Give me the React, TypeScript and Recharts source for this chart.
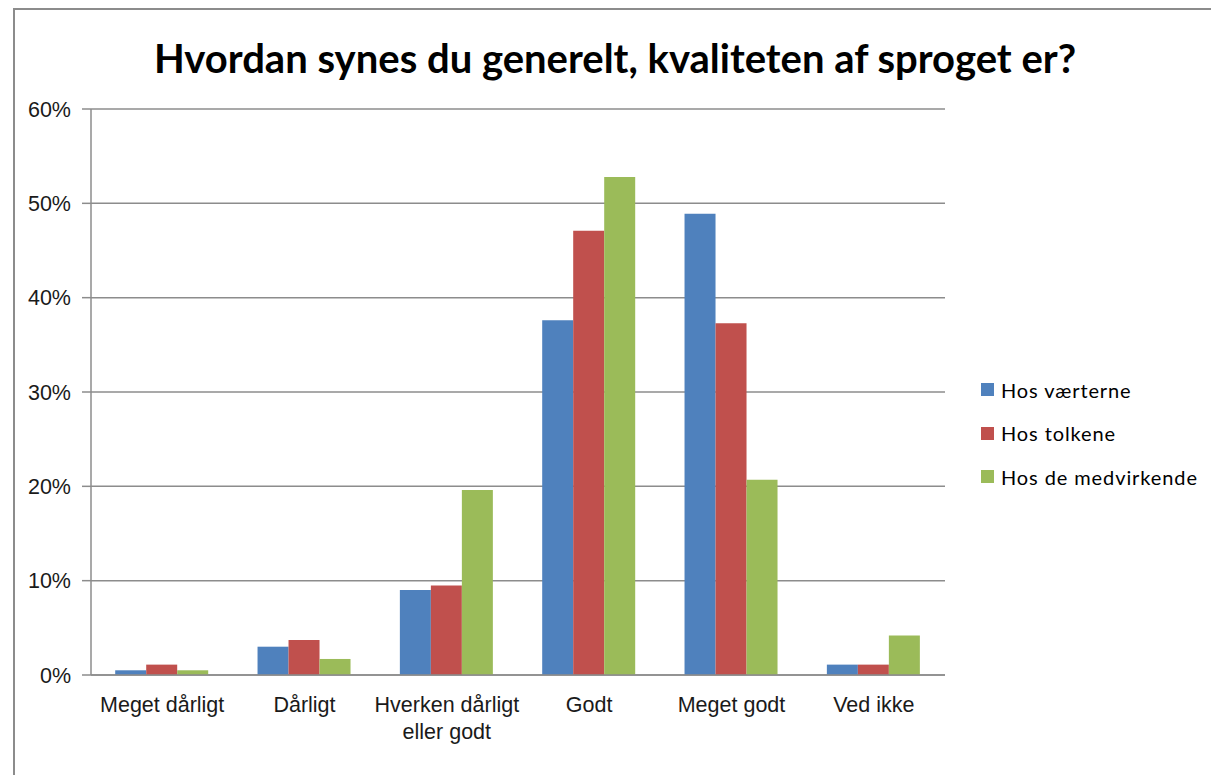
import React from "react";
import { BarChart, Bar, XAxis, YAxis, CartesianGrid } from "recharts";

const categories = [
  "Meget dårligt",
  "Dårligt",
  "Hverken dårligt eller godt",
  "Godt",
  "Meget godt",
  "Ved ikke",
];
const vaerterne = [0.5, 3.0, 9.0, 37.6, 48.9, 1.1];
const tolkene = [1.1, 3.7, 9.5, 47.1, 37.3, 1.1];
const medvirkende = [0.5, 1.7, 19.6, 52.8, 20.7, 4.2];
const yTicks = [0, 10, 20, 30, 40, 50, 60];

const seriesInfo = [
  { key: "vaerterne", name: "Hos værterne", color: "#4F81BD" },
  { key: "tolkene", name: "Hos tolkene", color: "#C0504D" },
  { key: "medvirkende", name: "Hos de medvirkende", color: "#9BBB59" },
];

const data = categories.map((c, i) => ({
  category: c,
  vaerterne: vaerterne[i],
  tolkene: tolkene[i],
  medvirkende: medvirkende[i],
}));

const tickFont = "'Liberation Sans', Arial, sans-serif";

function CategoryTick({ x, y, payload }: any) {
  const label: string = payload.value;
  const lines =
    label === "Hverken dårligt eller godt"
      ? ["Hverken dårligt", "eller godt"]
      : [label];
  return (
    <text
      x={x}
      y={y}
      textAnchor="middle"
      fontSize={21.5}
      fontFamily={tickFont}
      fill="#1a1a1a"
    >
      {lines.map((l, i) => (
        <tspan key={i} x={x} dy={i === 0 ? 29 : 27}>
          {l}
        </tspan>
      ))}
    </text>
  );
}

export default function App() {
  return (
    <div
      style={{
        position: "fixed",
        left: 0,
        top: 0,
        width: 1211,
        height: 775,
        background: "#fff",
        overflow: "hidden",
      }}
    >
      <div
        style={{
          position: "absolute",
          left: 13,
          top: 8,
          width: 1300,
          height: 900,
          border: "2px solid #8c8c8c",
          boxSizing: "border-box",
        }}
      />
      <div
        style={{
          position: "absolute",
          left: 0,
          width: 1230,
          top: 34,
          textAlign: "center",
          fontFamily: "Lato, 'Open Sans', sans-serif",
          fontWeight: 700,
          fontSize: 40,
          lineHeight: "48px",
          color: "#000",
        }}
      >
        Hvordan synes du generelt, kvaliteten af sproget er?
      </div>
      <div style={{ position: "absolute", left: 0, top: 0 }}>
        <BarChart
          width={1211}
          height={775}
          data={data}
          margin={{ top: 109, right: 266, bottom: 40, left: 13 }}
          barCategoryGap="17%"
          barGap={0}
        >
          <CartesianGrid
            vertical={false}
            stroke="#8c8c8c"
            strokeWidth={1.5}
            horizontalValues={yTicks}
          />
          <XAxis
            dataKey="category"
            height={60}
            tick={<CategoryTick />}
            tickLine={false}
            axisLine={{ stroke: "#8c8c8c", strokeWidth: 1.5 }}
            interval={0}
          />
          <YAxis
            width={78}
            domain={[0, 60]}
            ticks={yTicks}
            tickFormatter={(v) => `${v}%`}
            tick={{ fontSize: 21.5, fontFamily: tickFont, fill: "#1a1a1a" }}
            tickLine={{ stroke: "#8c8c8c", strokeWidth: 1.5 }}
            tickSize={9}
            tickMargin={11}
            axisLine={{ stroke: "#8c8c8c", strokeWidth: 1.5 }}
          />
          {seriesInfo.map((s) => (
            <Bar
              key={s.key}
              dataKey={s.key}
              name={s.name}
              fill={s.color}
              isAnimationActive={false}
            />
          ))}
        </BarChart>
      </div>
      <div
        style={{
          position: "absolute",
          left: 981,
          top: 368,
          fontFamily: "Lato, 'Open Sans', sans-serif",
          fontSize: 20,
          letterSpacing: 0.9,
          color: "#000",
        }}
      >
        {seriesInfo.map((s) => (
          <div
            key={s.key}
            style={{ display: "flex", alignItems: "center", height: 43.5 }}
          >
            <span
              style={{
                display: "inline-block",
                width: 13,
                height: 13,
                background: s.color,
                marginRight: 7,
              }}
            />
            <span style={{ lineHeight: "24px" }}>{s.name}</span>
          </div>
        ))}
      </div>
    </div>
  );
}
